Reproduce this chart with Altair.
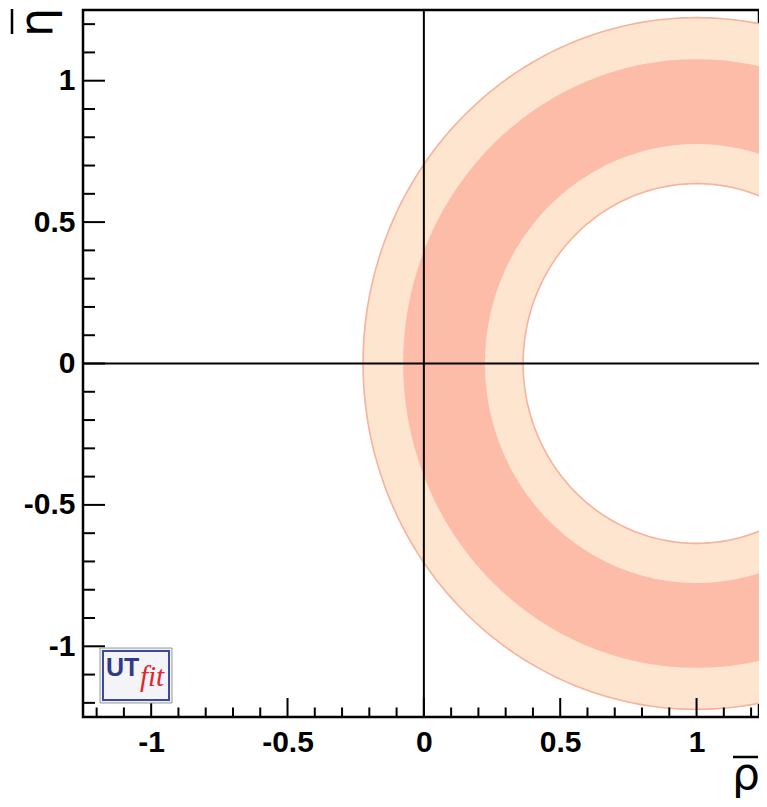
import altair as alt
import pandas as pd

# ---- data ----
RING_CENTER_X = 1.0
RING_CENTER_Y = 0.0
# radii of the filled disks drawn from outside in (light, dark, light, white)
DISK_RADII = [1.223, 1.076, 0.776, 0.636]
DISK_COLORS = ["#FDE5D0", "#FCBCA8", "#FDE5D0", "#FFFFFF"]
# contour lines (outer edge and inner edge of the allowed band)
OUTLINE_RADII = [1.223, 0.636]
OUTLINE_COLOR = "#F6B29C"

X_MAJOR = [-1, -0.5, 0, 0.5, 1]
X_MINOR = [-1.2, -1.1, -0.9, -0.8, -0.7, -0.6, -0.4, -0.3, -0.2, -0.1,
           0.1, 0.2, 0.3, 0.4, 0.6, 0.7, 0.8, 0.9, 1.1, 1.2]
Y_MAJOR = [-1, -0.5, 0, 0.5, 1]
Y_MINOR = [-1.2, -1.1, -0.9, -0.8, -0.7, -0.6, -0.4, -0.3, -0.2, -0.1,
           0.1, 0.2, 0.3, 0.4, 0.6, 0.7, 0.8, 0.9, 1.1, 1.2]
X_DOMAIN = [-1.25, 1.229]
Y_DOMAIN = [-1.25, 1.25]

W, H = 676, 707
LABEL_FONT = "Liberation Sans"

xscale = alt.Scale(domain=X_DOMAIN, nice=False, zero=False)
yscale = alt.Scale(domain=Y_DOMAIN, nice=False, zero=False)

lab_expr = "datum.value == 0 ? '0' : '' + datum.value"
xaxis = alt.Axis(values=X_MAJOR, ticks=False, domain=False, grid=False, title=None,
                 labelFont=LABEL_FONT, labelFontWeight="bold", labelFontSize=30,
                 labelColor="black", labelPadding=10, labelExpr=lab_expr)
yaxis = alt.Axis(values=Y_MAJOR, ticks=False, domain=False, grid=False, title=None,
                 labelFont=LABEL_FONT, labelFontWeight="bold", labelFontSize=30,
                 labelColor="black", labelPadding=8, labelExpr=lab_expr)


def disk(r, color):
    return (
        alt.Chart(alt.sequence(0, 181, 1, as_="deg"))
        .transform_calculate(
            x=f"{RING_CENTER_X} + {r} * cos(datum.deg * PI / 180)",
            y=f"{RING_CENTER_Y} + {r} * sin(datum.deg * PI / 180)",
            y2=f"{RING_CENTER_Y} - {r} * sin(datum.deg * PI / 180)",
        )
        .mark_area(clip=True, color=color, opacity=1, interpolate="linear")
        .encode(
            x=alt.X("x:Q", scale=xscale, axis=xaxis),
            y=alt.Y("y:Q", scale=yscale, axis=yaxis),
            y2="y2:Q",
        )
    )


def outline(r):
    return (
        alt.Chart(alt.sequence(0, 361, 1, as_="deg"))
        .transform_calculate(
            x=f"{RING_CENTER_X} + {r} * cos(datum.deg * PI / 180)",
            y=f"{RING_CENTER_Y} + {r} * sin(datum.deg * PI / 180)",
        )
        .mark_line(clip=True, color=OUTLINE_COLOR, strokeWidth=1.6)
        .encode(
            x=alt.X("x:Q", scale=xscale, axis=xaxis),
            y=alt.Y("y:Q", scale=yscale, axis=yaxis),
            order="deg:Q",
        )
    )


layers = [disk(r, c) for r, c in zip(DISK_RADII, DISK_COLORS)]
layers += [outline(r) for r in OUTLINE_RADII]

zero = pd.DataFrame({"v": [0]})
layers.append(alt.Chart(zero).mark_rule(color="black", strokeWidth=2)
              .encode(x=alt.X("v:Q", scale=xscale, axis=xaxis)))
layers.append(alt.Chart(zero).mark_rule(color="black", strokeWidth=2)
              .encode(y=alt.Y("v:Q", scale=yscale, axis=yaxis)))

# ticks pointing inward (ROOT style)
layers.append(alt.Chart(pd.DataFrame({"v": X_MAJOR})).mark_rule(color="black", strokeWidth=2)
              .encode(x=alt.X("v:Q", scale=xscale, axis=xaxis), y=alt.value(H), y2=alt.value(H - 19)))
layers.append(alt.Chart(pd.DataFrame({"v": X_MINOR})).mark_rule(color="black", strokeWidth=2)
              .encode(x=alt.X("v:Q", scale=xscale, axis=xaxis), y=alt.value(H), y2=alt.value(H - 9.5)))
layers.append(alt.Chart(pd.DataFrame({"v": Y_MAJOR})).mark_rule(color="black", strokeWidth=2)
              .encode(y=alt.Y("v:Q", scale=yscale, axis=yaxis), x=alt.value(0), x2=alt.value(22)))
layers.append(alt.Chart(pd.DataFrame({"v": Y_MINOR})).mark_rule(color="black", strokeWidth=2)
              .encode(y=alt.Y("v:Q", scale=yscale, axis=yaxis), x=alt.value(0), x2=alt.value(12)))

# axis titles: rho-bar and eta-bar
layers.append(alt.Chart(pd.DataFrame({"t": ["ρ"]})).mark_text(
    font="DejaVu Sans", fontSize=44, align="center", baseline="alphabetic", color="black")
    .encode(x=alt.value(663), y=alt.value(779), text="t:N"))
layers.append(alt.Chart(pd.DataFrame({"t": ["ρ"]})).mark_rule(color="black", strokeWidth=2.5)
              .encode(x=alt.value(650), x2=alt.value(675), y=alt.value(747)))
layers.append(alt.Chart(pd.DataFrame({"t": ["η"]})).mark_text(
    font="DejaVu Sans", fontSize=46, align="center", baseline="alphabetic", color="black", angle=270)
    .encode(x=alt.value(-31), y=alt.value(12.5), text="t:N"))
layers.append(alt.Chart(pd.DataFrame({"t": ["η"]})).mark_rule(color="black", strokeWidth=2.5)
              .encode(x=alt.value(-71), y=alt.value(-1), y2=alt.value(24)))

# UTfit logo
layers.append(alt.Chart(pd.DataFrame({"t": ["logo"]})).mark_rect(
    fill="#EEF0F7", stroke="#9A9A9A", strokeWidth=1)
    .encode(x=alt.value(17), x2=alt.value(89), y=alt.value(638), y2=alt.value(693)))
layers.append(alt.Chart(pd.DataFrame({"t": ["logo"]})).mark_rect(
    fill="#F4F3F7", stroke="#3C4A9E", strokeWidth=2)
    .encode(x=alt.value(20), x2=alt.value(86), y=alt.value(641), y2=alt.value(690)))
layers.append(alt.Chart(pd.DataFrame({"t": ["UT"]})).mark_text(
    font="Liberation Sans", fontWeight="bold", fontSize=25, align="left",
    baseline="alphabetic", color="#2E3A8C")
    .encode(x=alt.value(23), y=alt.value(666), text="t:N"))
layers.append(alt.Chart(pd.DataFrame({"t": ["fit"]})).mark_text(
    font="Liberation Serif", fontStyle="italic", fontSize=29, align="left", baseline="alphabetic",
    color="#E3242B")
    .encode(x=alt.value(57), y=alt.value(676), text="t:N"))

chart = (
    alt.layer(*layers)
    .properties(
        width=W, height=H,
        padding={"left": 75, "top": 2, "right": 0, "bottom": 82},
        autosize=alt.AutoSizeParams(type="none"),
    )
    .configure_view(stroke="black", strokeWidth=2.5)
)

chart.save("out.html", embed_options={"renderer": "svg", "actions": False})
